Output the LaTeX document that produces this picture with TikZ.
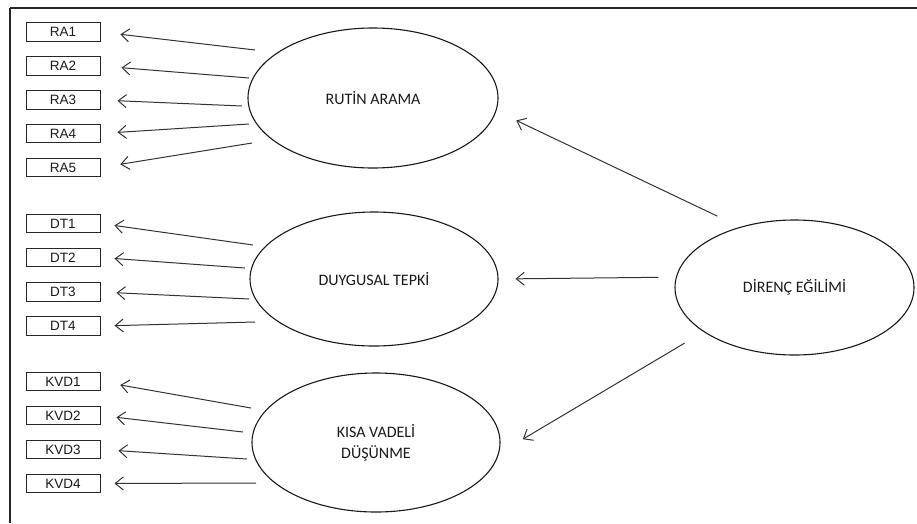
\documentclass[tikz,border=0pt]{standalone}
\usepackage{fontspec}
\setmainfont{Liberation Sans}
\newfontfamily\latentfont{Carlito}
\usetikzlibrary{shapes.geometric,arrows.meta}

\definecolor{inkline}{HTML}{333333}
\definecolor{inkbox}{HTML}{262626}
\definecolor{inktext}{HTML}{1A1A1A}

\tikzset{
  indicator/.style={draw=inkbox, line width=1pt, minimum width=74pt,
    minimum height=18.5pt, inner sep=0pt,
    font=\fontsize{13.5}{15}\selectfont, text=inktext},
  latent/.style={ellipse, draw=black!90, line width=1.1pt, inner sep=0pt,
    font=\latentfont\fontsize{16}{21}\selectfont, text=inktext, align=center},
  loading/.style={draw=inkline, line width=1pt,
    -{Straight Barb[length=8pt,width=13pt,line width=1pt]}},
}

\begin{document}
\begin{tikzpicture}[x=1pt,y=-1pt]
  \useasboundingbox (0,0) rectangle (917,523);

  % frame: top and left rules
  \draw[black!85, line width=1.8pt] (917,8) -- (10,8);
  \draw[black!85, line width=1.4pt] (10,8) -- (10,523);

  % latent factors
  \node[latent, minimum width=250pt, minimum height=140pt] (rutin) at (373,98) {RUT\.{I}N ARAMA};
  \node[latent, minimum width=248pt, minimum height=134pt] (duygu) at (374,279) {DUYGUSAL TEPK\.{I}};
  \node[latent, minimum width=248pt, minimum height=139pt] (kisa) at (376,442.5) {KISA VADEL\.{I}\\D\"{U}\c{S}\"{U}NME};
  \node[latent, minimum width=239pt, minimum height=135pt] (direnc) at (794.5,287.5) {D\.{I}REN\c{C} E\u{G}\.{I}L\.{I}M\.{I}};

  % indicators
  \node[indicator] (ra1) at (63,32) {RA1};
  \node[indicator] (ra2) at (63,66) {RA2};
  \node[indicator] (ra3) at (63,100) {RA3};
  \node[indicator] (ra4) at (63,133.5) {RA4};
  \node[indicator] (ra5) at (63,167.5) {RA5};

  \node[indicator] (dt1) at (63,223.5) {DT1};
  \node[indicator] (dt2) at (63,257.5) {DT2};
  \node[indicator] (dt3) at (63,292) {DT3};
  \node[indicator] (dt4) at (63,326) {DT4};

  \node[indicator] (kvd1) at (63,381.5) {KVD1};
  \node[indicator] (kvd2) at (63,415.5) {KVD2};
  \node[indicator] (kvd3) at (63,449.5) {KVD3};
  \node[indicator] (kvd4) at (63,483.5) {KVD4};

  % tails of the loading arrows
  \coordinate (r1) at (255,50);
  \coordinate (r2) at (249,78);
  \coordinate (r3) at (242,106);
  \coordinate (r4) at (249,124);
  \coordinate (r5) at (252,143);
  \coordinate (d1) at (253,245);
  \coordinate (d2) at (245,268);
  \coordinate (d3) at (249,299);
  \coordinate (d4) at (255,322);
  \coordinate (k1) at (251,408);
  \coordinate (k2) at (243,432);
  \coordinate (k3) at (247,459);
  \coordinate (k4) at (256,483);

  % loadings on indicators
  \draw[loading, shorten >=20pt] (r1) -- (ra1.east);
  \draw[loading, shorten >=21pt] (r2) -- (ra2.east);
  \draw[loading, shorten >=17pt] (r3) -- (ra3.east);
  \draw[loading, shorten >=17pt] (r4) -- (ra4.east);
  \draw[loading, shorten >=20pt] (r5) -- (ra5.east);

  \draw[loading, shorten >=14pt] (d1) -- (dt1.east);
  \draw[loading, shorten >=14pt] (d2) -- (dt2.east);
  \draw[loading, shorten >=16pt] (d3) -- (dt3.east);
  \draw[loading, shorten >=14pt] (d4) -- (dt4.east);

  \draw[loading, shorten >=20pt] (k1) -- (kvd1.east);
  \draw[loading, shorten >=16pt] (k2) -- (kvd2.east);
  \draw[loading, shorten >=18pt] (k3) -- (kvd3.east);
  \draw[loading, shorten >=14pt] (k4) -- (kvd4.east);

  % second-order paths
  \draw[loading, shorten <=25pt, shorten >=22pt] (direnc.132.4) -- (rutin.-6.8);
  \draw[loading, shorten <=17.5pt, shorten >=17pt] (direnc.175) -- (duygu.east);
  \draw[loading, shorten <=22pt, shorten >=27.6pt] (direnc.206) -- (kisa.-5.2);
\end{tikzpicture}
\end{document}
